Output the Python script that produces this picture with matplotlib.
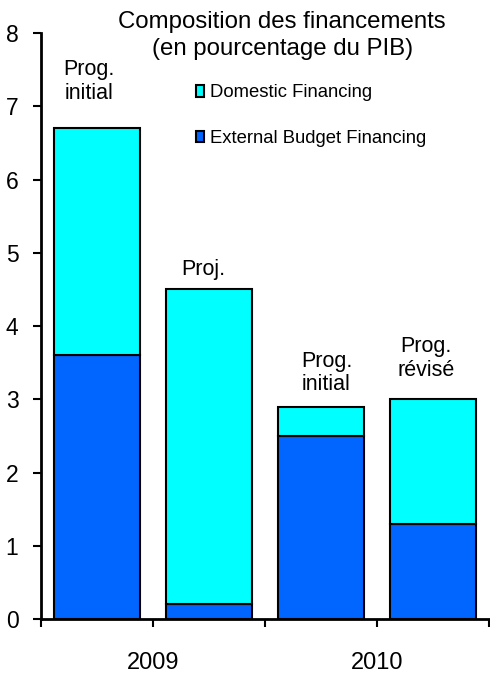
import numpy as np
import matplotlib.pyplot as plt

plt.rcParams['font.family'] = ['Liberation Sans', 'DejaVu Sans']

# données (en % du PIB)
labels = ['Prog.\ninitial', 'Proj.', 'Prog.\ninitial', 'Prog.\nrévisé']
external = [3.6, 0.2, 2.5, 1.3]
domestic = [3.1, 4.3, 0.4, 1.7]
years = ['2009', '2010']

cyan = '#00FFFF'
blue = '#0066FF'

fig = plt.figure(figsize=(4.9, 6.75), dpi=100)
ax = fig.add_axes([0.083, 0.083, 0.915, 0.868])

x = np.arange(len(labels))

b_ext = ax.bar(x, external, width=0.77, color=blue, edgecolor='black', linewidth=1.5,
               label='External Budget Financing', zorder=2)
b_dom = ax.bar(x, domestic, width=0.77, bottom=external, color=cyan, edgecolor='black',
               linewidth=1.5, label='Domestic Financing', zorder=2)

# étiquettes au-dessus des barres (placées à la main)
lab_y = [7.64, 4.92, 3.66, 3.86]
lab_dx = [-0.07, -0.05, 0.05, -0.06]
for xi, lab, yi, dx in zip(x, labels, lab_y, lab_dx):
    ax.text(xi + dx, yi, lab, ha='center', va='top', fontsize=15.5, linespacing=1.15)

ax.set_xlim(-0.5, 3.5)
ax.set_ylim(0, 8)
ax.set_yticks(range(0, 9))
ax.tick_params(axis='y', labelsize=16.5, length=6, width=1.5, direction='out', pad=10)
ax.set_xticks([-0.5, 0.5, 1.5, 2.5, 3.5])
ax.set_xticklabels([])
ax.tick_params(axis='x', length=6, width=1.5, direction='out')
for i, yr in enumerate(years):
    ax.text(0.5 + 2 * i, -0.45, yr, ha='center', va='top', fontsize=17)

for s in ['top', 'right']:
    ax.spines[s].set_visible(False)
ax.spines['left'].set_linewidth(2)
ax.spines['bottom'].set_linewidth(2)

fig.text(0.576, 0.984, 'Composition des financements\n(en pourcentage du PIB)',
         ha='center', va='top', fontsize=17.3, linespacing=1.3)

leg = ax.legend(handles=[b_dom, b_ext], loc='upper left', bbox_to_anchor=(0.33, 0.925),
                frameon=False, fontsize=13.3, handlelength=0.45, handleheight=0.6,
                handletextpad=0.3, labelspacing=1.55, borderaxespad=0)

plt.savefig('out.png', dpi=100)
